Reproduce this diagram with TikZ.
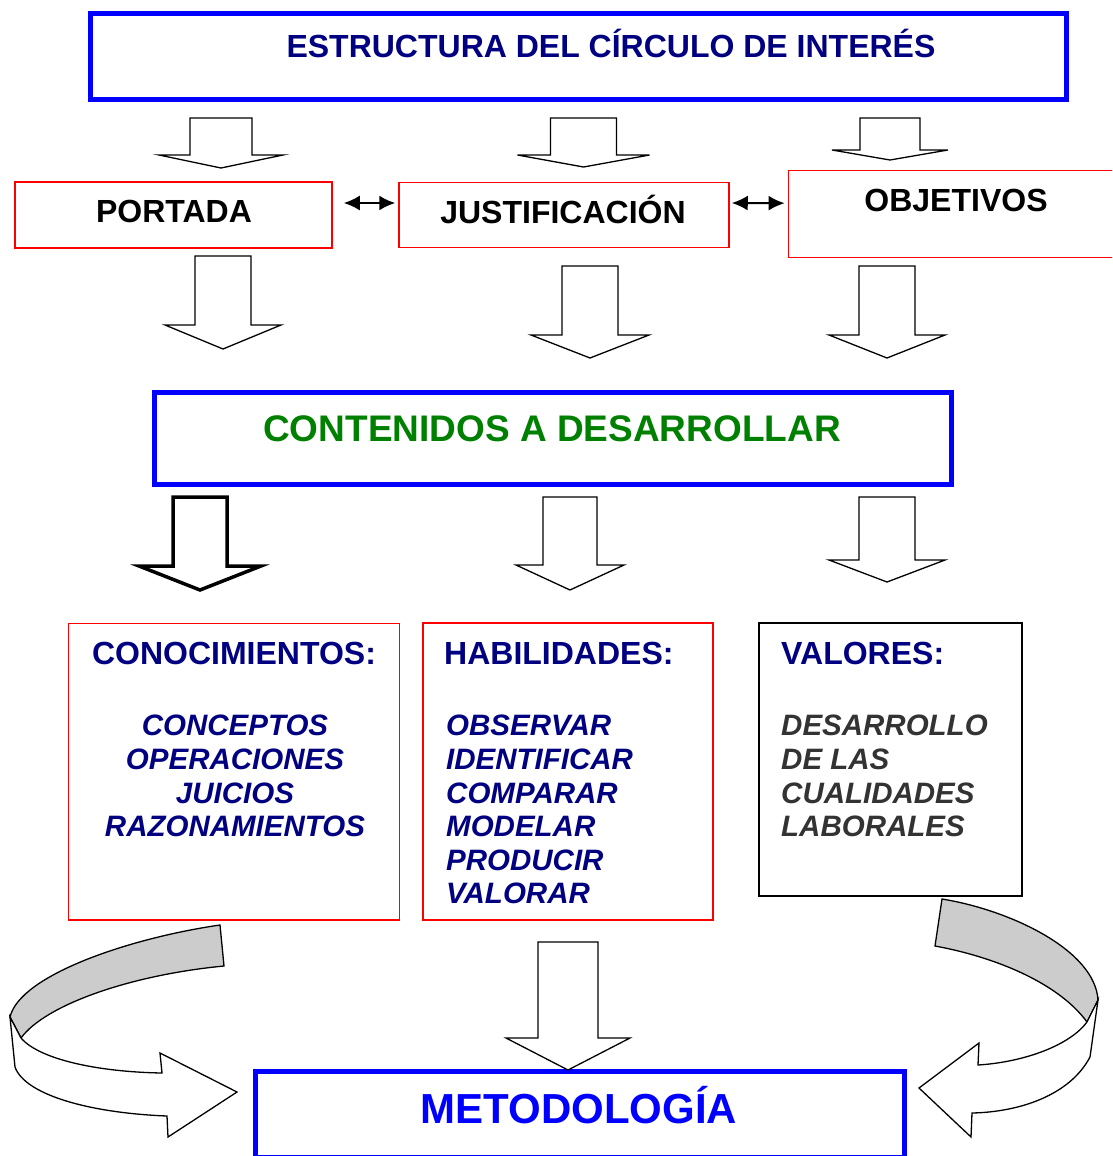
\documentclass[tikz,border=0pt]{standalone}
\usepackage{fontspec}
\setmainfont{Liberation Sans}
\usetikzlibrary{arrows.meta}
\definecolor{navy}{RGB}{0,0,128}
\definecolor{dgreen}{RGB}{0,128,0}
\definecolor{dgray}{RGB}{51,51,51}
\definecolor{ribbon}{RGB}{204,204,204}

% block arrow pointing down: [opts] x, shaft half width, top, shaft end, head half width, tip
\newcommand{\blockdown}[7][]{%
  \draw[blk,#1] (#2-#3,#4) -- (#2+#3,#4) -- (#2+#3,#5) -- (#2+#6,#5)
    -- (#2,#7) -- (#2-#6,#5) -- (#2-#3,#5) -- cycle;}

\begin{document}
\begin{tikzpicture}[x=1pt,y=-1pt,
    every node/.style={inner sep=0pt},
    bluebox/.style={draw=blue,line width=5pt},
    redbox/.style={draw=red,line width=1.5pt},
    blackbox/.style={draw=black,line width=1.5pt},
    txt/.style={font=\fontsize{32}{33}\selectfont\bfseries},
    item/.style={font=\fontsize{29.5}{33.6}\selectfont\bfseries\itshape},
    blk/.style={draw=black,fill=white,line width=1.3pt,line join=miter},
    rib/.style={draw=black,line width=1.3pt},
    link/.style={{Latex[length=16pt,width=15pt]}-{Latex[length=16pt,width=15pt]},line width=2pt}]
  \useasboundingbox (0,0) rectangle (1112,1156);
  \clip (0,0) rectangle (1112,1156);

  % boxes
  \node[bluebox,minimum width=975.7pt,minimum height=85pt] (estr) at (578.2,56.5) {};
  \node[redbox,minimum width=317pt,minimum height=66pt] (port) at (173.5,215) {};
  \node[redbox,minimum width=330pt,minimum height=65.4pt] (just) at (564,215) {};
  \node[redbox,minimum width=336.7pt,minimum height=87pt] (obj) at (956.7,214.2) {};
  \node[bluebox,minimum width=797pt,minimum height=92pt] (cont) at (552.5,438.5) {};
  \node[redbox,minimum width=331pt,minimum height=296.7pt] (conoc) at (233.8,771.7) {};
  \node[redbox,minimum width=290pt,minimum height=297pt] (habil) at (568,771.5) {};
  \node[blackbox,minimum width=263pt,minimum height=273pt] (valor) at (890.5,759.5) {};
  \node[bluebox,minimum width=649.5pt,minimum height=85.5pt] (metod) at (579.75,1114.25) {};

  % texts
  \node[txt,text=navy,anchor=base] (t-estr) at (611,57.5) {ESTRUCTURA DEL CÍRCULO DE INTERÉS};
  \node[txt,anchor=base] (t-port) at (174,222.5) {PORTADA};
  \node[txt,anchor=base] (t-just) at (563,223) {JUSTIFICACIÓN};
  \node[txt,anchor=base] (t-obj) at (956,211.5) {OBJETIVOS};
  \node[txt,text=dgreen,anchor=base,font=\fontsize{37}{40}\selectfont\bfseries] (t-cont) at (552,441) {CONTENIDOS A DESARROLLAR};
  \node[txt,text=navy,anchor=base] (t-conoc) at (234,664) {CONOCIMIENTOS:};
  \node[txt,text=navy,anchor=base west] (t-habil) at (444,664) {HABILIDADES:};
  \node[txt,text=navy,anchor=base west] (t-valor) at (781,664) {VALORES:};
  \node[item,text=navy,align=center,anchor=north] (l-conoc) at (235,715)
    {CONCEPTOS\\OPERACIONES\\JUICIOS\\RAZONAMIENTOS};
  \node[item,text=navy,align=left,anchor=north west] (l-habil) at (446,715)
    {OBSERVAR\\IDENTIFICAR\\COMPARAR\\MODELAR\\PRODUCIR\\VALORAR};
  \node[item,text=dgray,align=left,anchor=north west] (l-valor) at (781,715)
    {DESARROLLO\\DE LAS\\CUALIDADES\\LABORALES};
  \node[txt,text=blue,anchor=base,font=\fontsize{42}{44}\selectfont\bfseries] (t-metod) at (579,1123) {METODOLOGÍA};

  % links between the three parts
  \draw[link,shorten <=11pt,shorten >=3pt] ([yshift=12pt]port.east) -- ([yshift=12pt]just.west);
  \draw[link,shorten <=2pt,shorten >=3pt] ([yshift=12pt]just.east) -- ([yshift=11pt]obj.west);

  % block arrows
  \blockdown{221}{31}{118}{155}{62}{168}
  \blockdown{583.5}{33}{118}{155}{66}{167}
  \blockdown{890}{30}{118}{150}{58}{160}
  \blockdown{223}{28}{256}{325}{58}{349}
  \blockdown{590}{28}{266}{335}{59}{358}
  \blockdown{887}{28}{266}{335}{58}{358}
  \blockdown[line width=3.5pt]{200}{27}{497}{566}{61}{590}
  \blockdown{570}{27}{497}{565}{54}{590}
  \blockdown{887}{28}{497}{560}{58}{582}
  \blockdown{568}{30}{942}{1038}{62}{1070}

  % curved arrow, left
  \draw[rib,fill=ribbon] (220,925) .. controls (130,938) and (20,975) .. (10,1017)
    -- (21,1038) .. controls (45,1005) and (130,975) .. (224,966) -- cycle;
  \draw[rib,fill=white] (10,1017) -- (15,1067) .. controls (25,1095) and (90,1113) .. (167,1116)
    -- (168,1137) -- (237,1092) -- (160,1053) -- (162,1073)
    .. controls (100,1072) and (40,1060) .. (21,1038) -- cycle;
  % curved arrow, right
  \draw[rib,fill=ribbon] (942,899) .. controls (1010,910) and (1095,950) .. (1098,1000)
    -- (1087,1022) .. controls (1060,985) and (1000,958) .. (935,946) -- cycle;
  \draw[rib,fill=white] (1098,1000) -- (1090,1057) .. controls (1070,1095) and (1020,1112) .. (972,1113)
    -- (971,1137) -- (919,1088) -- (979,1043) -- (978,1065)
    .. controls (1025,1062) and (1070,1045) .. (1087,1022) -- cycle;
\end{tikzpicture}
\end{document}
